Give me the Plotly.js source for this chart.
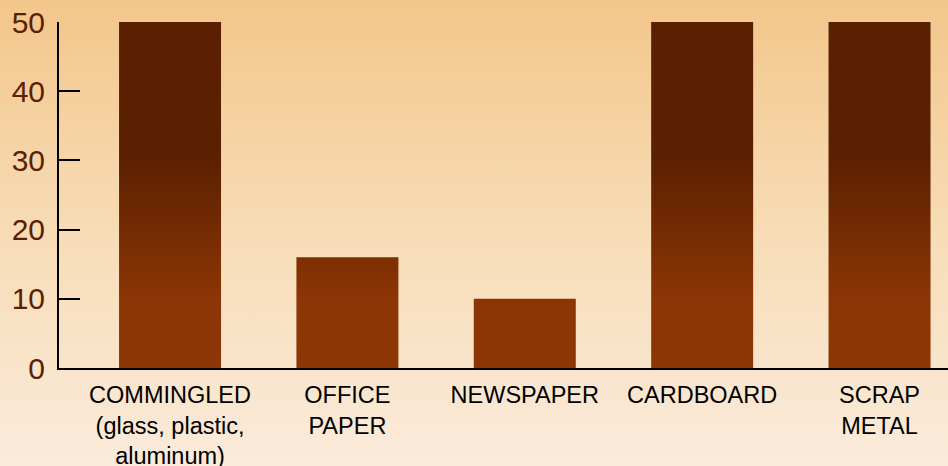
<!DOCTYPE html>
<html>
<head>
<meta charset="utf-8">
<script src="https://cdn.plot.ly/plotly-3.0.1.min.js"></script>
<style>
  html, body { margin: 0; padding: 0; }
  body { width: 948px; height: 466px; overflow: hidden;
         background: linear-gradient(to bottom, #f3c68b 0%, #f7dcb6 50%, #fbebdb 100%); }
  #chart { width: 948px; height: 466px; }
</style>
</head>
<body>
<div id="chart"></div>
<script>
const categories = ["COMMINGLED<br>(glass, plastic,<br>aluminum)", "OFFICE<br>PAPER", "NEWSPAPER", "CARDBOARD", "SCRAP<br>METAL"];
const values = [50, 16, 10, 50, 50];
const yTickValues = [0, 10, 20, 30, 40, 50];
const gradientDark = "#5b2002";
const gradientLight = "#8c3505";

const trace = {
  type: "bar",
  x: categories.map((c, i) => i),
  y: values,
  width: 0.575,
  marker: { color: gradientLight, line: { width: 0 } },
  hoverinfo: "skip"
};

const layout = {
  width: 948, height: 466,
  margin: { l: 59, r: 0, t: 22, b: 98, pad: 0 },
  paper_bgcolor: "rgba(0,0,0,0)",
  plot_bgcolor: "rgba(0,0,0,0)",
  showlegend: false,
  font: { family: "Liberation Sans, Arial, sans-serif" },
  xaxis: {
    range: [-0.626, 4.386],
    tickmode: "array",
    tickvals: categories.map((c, i) => i),
    ticktext: categories,
    showgrid: false, zeroline: false,
    showline: true, linecolor: "#000", linewidth: 2,
    ticks: "",
    tickfont: { size: 23.5, color: "#000" },
    ticklabelstandoff: 5,
    fixedrange: true
  },
  yaxis: {
    range: [0, 50],
    tickmode: "array",
    tickvals: yTickValues,
    ticktext: yTickValues.map(String),
    showgrid: false, zeroline: false,
    showline: true, linecolor: "#000", linewidth: 2,
    ticks: "inside", ticklen: 21, tickwidth: 2, tickcolor: "#000",
    tickfont: { size: 30, color: "#5b2002" },
    ticklabelstandoff: 6,
    fixedrange: true
  }
};

Plotly.newPlot("chart", [trace], layout, { staticPlot: true, displayModeBar: false }).then(gd => {
  const ya = gd._fullLayout.yaxis;
  const y1 = ya.l2p(30.5), y2 = ya.l2p(10);
  const svg = gd.querySelector("svg.main-svg");
  let defs = svg.querySelector("defs");
  const ns = "http://www.w3.org/2000/svg";
  const lg = document.createElementNS(ns, "linearGradient");
  lg.setAttribute("id", "barGrad");
  lg.setAttribute("gradientUnits", "userSpaceOnUse");
  lg.setAttribute("x1", "0"); lg.setAttribute("x2", "0");
  lg.setAttribute("y1", y1); lg.setAttribute("y2", y2);
  const s1 = document.createElementNS(ns, "stop");
  s1.setAttribute("offset", "0"); s1.setAttribute("stop-color", gradientDark);
  const s2 = document.createElementNS(ns, "stop");
  s2.setAttribute("offset", "1"); s2.setAttribute("stop-color", gradientLight);
  lg.appendChild(s1); lg.appendChild(s2);
  defs.appendChild(lg);
  gd.querySelectorAll(".bars .point path").forEach(p => {
    p.style.fill = "url(#barGrad)";
  });
});
</script>
</body>
</html>
